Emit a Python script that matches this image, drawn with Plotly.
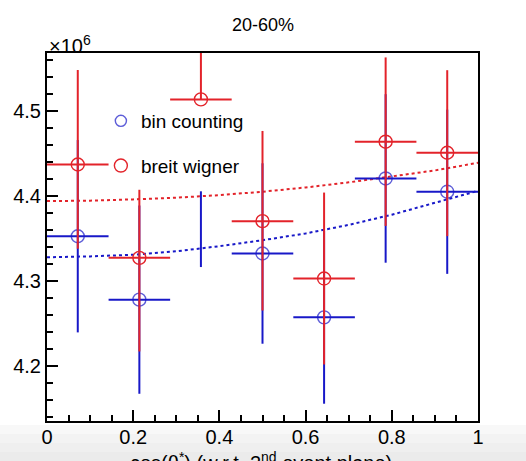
import plotly.graph_objects as go

# ---- data (y in units of 10^6) ----
bin_centers = [0.0714, 0.2143, 0.3571, 0.5, 0.6429, 0.7857, 0.9286]
bin_half_width = [0.0714] * 7

bc_y = [4.3527, 4.2782, 4.3610, 4.3324, 4.2574, 4.4206, 4.4050]
bc_err = [0.113, 0.1106, 0.0445, 0.106, 0.1015, 0.099, 0.0965]
bc_xerr = [0.0714, 0.0714, 0.0, 0.0714, 0.0714, 0.0714, 0.0714]
bc_marker = [13, 13, 0, 13, 13, 13, 13]

bw_y = [4.437, 4.3273, 4.5135, 4.3704, 4.303, 4.4638, 4.4508]
bw_err_up = [0.111, 0.080, 0.100, 0.106, 0.101, 0.099, 0.097]
bw_err_dn = [0.099, 0.110, 0.0, 0.105, 0.101, 0.099, 0.098]

fit_x = [0.0, 0.1, 0.2, 0.3, 0.4, 0.5, 0.6, 0.7, 0.8, 0.9, 1.0]
fit_bc = [4.328, 4.329, 4.331, 4.335, 4.341, 4.348, 4.356, 4.366, 4.378, 4.392, 4.406]
fit_bw = [4.394, 4.3945, 4.396, 4.398, 4.401, 4.405, 4.410, 4.416, 4.423, 4.430, 4.439]

x_ticks = [0, 0.2, 0.4, 0.6, 0.8, 1]
x_ticklabels = ["0", "0.2", "0.4", "0.6", "0.8", "1"]
y_ticks = [4.2, 4.3, 4.4, 4.5]
y_ticklabels = ["4.2", "4.3", "4.4", "4.5"]

RED = "#e3232a"
BLUE = "#1818c8"
FONT = "Liberation Sans, Arial, Helvetica, sans-serif"

fig = go.Figure()

fig.add_trace(go.Scatter(x=fit_x, y=fit_bc, mode="lines", showlegend=False,
                         line=dict(color=BLUE, width=2, dash="3px,3px"), hoverinfo="skip"))
fig.add_trace(go.Scatter(x=fit_x, y=fit_bw, mode="lines", showlegend=False,
                         line=dict(color=RED, width=2, dash="3px,3px"), hoverinfo="skip"))

fig.add_trace(go.Scatter(
    x=bin_centers, y=bc_y, mode="markers", name="bin counting", legendgroup="a",
    marker=dict(symbol="circle-open", size=bc_marker, color=BLUE, line=dict(width=1.4, color=BLUE)),
    error_y=dict(type="data", array=bc_err, color=BLUE, thickness=2, width=0),
    error_x=dict(type="data", array=bc_xerr, color=BLUE, thickness=2, width=0),
))
fig.add_trace(go.Scatter(
    x=bin_centers, y=bw_y, mode="markers", name="breit wigner", legendgroup="b",
    marker=dict(symbol="circle-open", size=13, color=RED, line=dict(width=1.4, color=RED)),
    error_y=dict(type="data", symmetric=False, array=bw_err_up, arrayminus=bw_err_dn,
                 color=RED, thickness=2, width=0),
    error_x=dict(type="data", array=bin_half_width, color=RED, thickness=2, width=0),
))

W, H = 526, 461
ml, mr, mt, mb = 47, 48, 53, 40
ph = H - mt - mb

def py(p):
    return (H - mb - p) / ph

shapes = []
for (a, b, c) in [(425, 434, "#f8f8f8"), (434, 443, "#f3f3f3"), (443, 452, "#efefef"), (452, 462, "#ebebeb")]:
    shapes.append(dict(type="rect", xref="paper", yref="paper", x0=-0.2, x1=1.2,
                       y0=py(b), y1=py(a), fillcolor=c, line=dict(width=0), layer="below"))

fig.update_layout(
    width=W, height=H,
    margin=dict(l=ml, r=mr, t=mt, b=mb),
    paper_bgcolor="white", plot_bgcolor="rgba(0,0,0,0)",
    font=dict(family=FONT, size=20, color="black"),
    showlegend=True,
    legend=dict(x=0.125, y=py(102), xanchor="left", yanchor="top",
                bgcolor="rgba(0,0,0,0)", font=dict(size=19), tracegroupgap=17,
                traceorder="grouped"),
    shapes=shapes,
    xaxis=dict(range=[0, 1], tickvals=x_ticks, ticktext=x_ticklabels,
               ticks="inside", ticklen=11, tickwidth=1.5, tickcolor="black",
               minor=dict(dtick=0.05, ticks="inside", ticklen=6, tickwidth=1.5, tickcolor="black"),
               showline=True, linewidth=2, linecolor="black", mirror=True,
               showgrid=False, zeroline=False, tickfont=dict(size=20), ticklabelstandoff=-3),
    yaxis=dict(range=[4.1356, 4.568], tickvals=y_ticks, ticktext=y_ticklabels,
               ticks="inside", ticklen=11, tickwidth=1.5, tickcolor="black",
               minor=dict(dtick=0.02, tick0=4.2, ticks="inside", ticklen=6, tickwidth=1.5, tickcolor="black"),
               showline=True, linewidth=2, linecolor="black", mirror=True,
               showgrid=False, zeroline=False, tickfont=dict(size=20)),
    annotations=[
        dict(text="20-60%", xref="paper", yref="paper", x=0.5, y=py(25),
             xanchor="center", yanchor="middle", showarrow=False, font=dict(size=18)),
        dict(text="×10<sup>6</sup>", xref="paper", yref="paper", x=0, y=py(45),
             xanchor="left", yanchor="middle", showarrow=False, font=dict(size=20)),
        dict(text="cos(θ<sup>*</sup>) (w.r.t. 2<sup>nd</sup> event plane)", xref="paper", yref="paper",
             x=0.497, y=py(462), xanchor="center", yanchor="middle", showarrow=False,
             font=dict(size=20)),
    ],
)

fig.write_html("out.html")
